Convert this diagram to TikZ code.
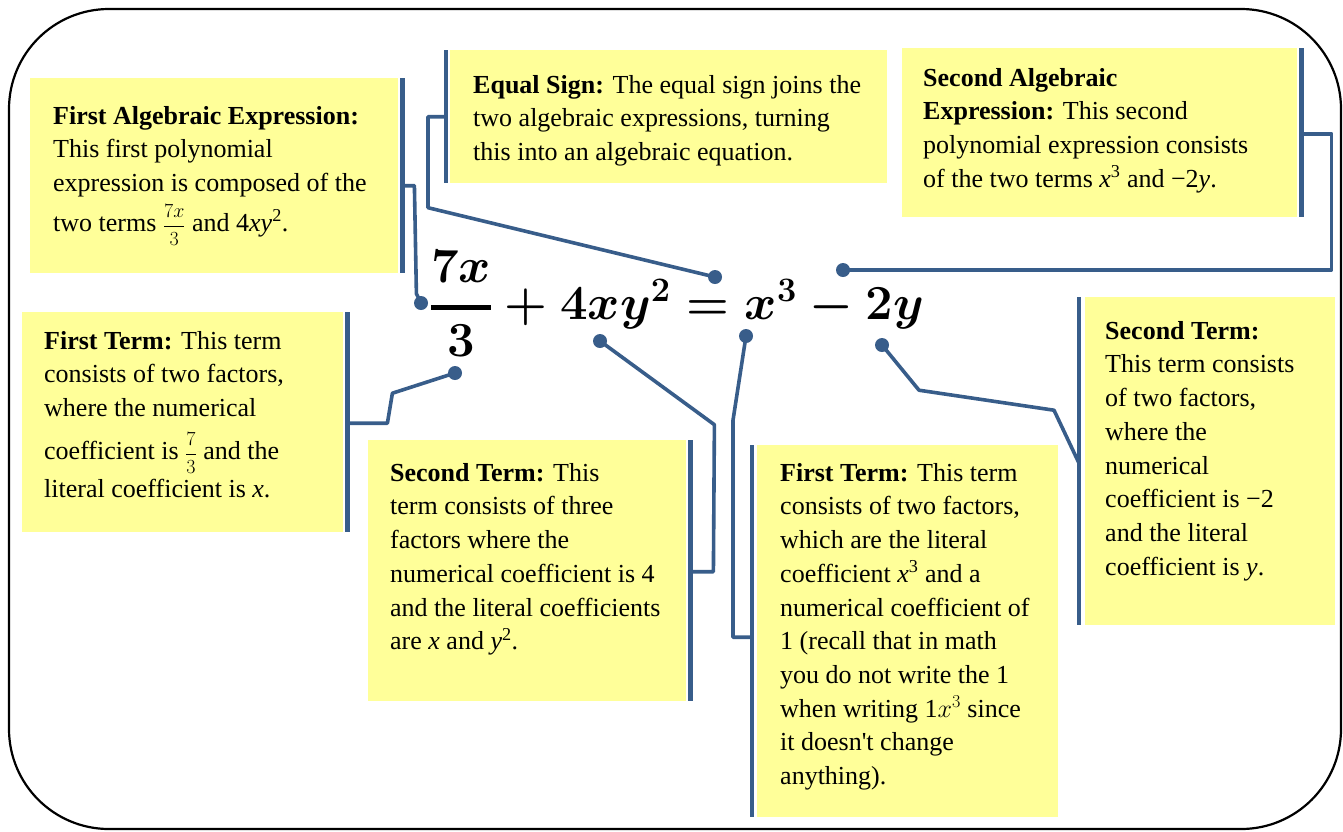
\RequirePackage{fix-cm}
\documentclass[tikz,border=0pt]{standalone}
\usepackage{amsmath}
\usepackage{fontspec}
\setmainfont{Liberation Serif}
\usetikzlibrary{calc}
\definecolor{noteyellow}{RGB}{255,255,153}
\definecolor{leadblue}{RGB}{56,93,138}
\newcommand{\eqnfont}{\fontsize{49}{60}\selectfont\boldmath}
\newcommand{\notefrac}[2]{{\fontsize{20}{26}\selectfont$\dfrac{#1}{#2}$}}
\tikzset{
  notebox/.style={anchor=north west, fill=noteyellow, inner sep=0pt},
  notetext/.style={anchor=north west, inner sep=0pt, align=left,
                   font=\fontsize{26}{33.7}\selectfont},
  notebar/.style={draw=leadblue, line width=4.5pt},
  leadline/.style={draw=leadblue, line width=3.6pt, line join=round},
  leaddot/.style={circle, fill=leadblue, inner sep=0pt, minimum size=14pt},
  eqnbox/.style={inner sep=0pt, font=\eqnfont},
}

\begin{document}
\begin{tikzpicture}[x=1pt,y=-1pt]
\useasboundingbox (0,0) rectangle (1343,831);
\draw[line width=2.2pt, rounded corners=100pt] (9,9) rectangle (1341,829);

% yellow notes
\node[notebox, minimum width=368pt, minimum height=195pt] (fae) at (30,78) {};
\node[notebox, minimum width=437pt, minimum height=133pt] (eqs) at (450,50) {};
\node[notebox, minimum width=395pt, minimum height=169pt] (sae) at (902,48) {};
\node[notebox, minimum width=321pt, minimum height=220pt] (ftl) at (22,312) {};
\node[notebox, minimum width=318pt, minimum height=261pt] (stl) at (368,440) {};
\node[notebox, minimum width=301pt, minimum height=372pt] (ftr) at (757,445) {};
\node[notebox, minimum width=250pt, minimum height=328pt] (str) at (1085,297) {};

\draw[notebar] ($(fae.north east)+(4,0)$) -- ($(fae.south east)+(4,0)$);
\draw[notebar] ($(eqs.north west)+(-4,0)$) -- ($(eqs.south west)+(-4,0)$);
\draw[notebar] ($(sae.north east)+(4,0)$) -- ($(sae.south east)+(4,0)$);
\draw[notebar] ($(ftl.north east)+(4,0)$) -- ($(ftl.south east)+(4,0)$);
\draw[notebar] ($(stl.north east)+(4,0)$) -- ($(stl.south east)+(4,0)$);
\draw[notebar] ($(ftr.north west)+(-5,0)$) -- ($(ftr.south west)+(-5,0)$);
\draw[notebar] ($(str.north west)+(-6,0)$) -- ($(str.south west)+(-6,0)$);

\node[notetext] (fae text) at (53,106)
  {\textbf{First Algebraic Expression:}\\ This first polynomial\\
   expression is composed of the\\[6pt] two terms \notefrac{7x}{3} and 4\textit{xy}\textsuperscript{2}.};
\node[notetext] (eqs text) at (473,75)
  {\textbf{Equal Sign:} The equal sign joins the\\ two algebraic expressions, turning\\
   this into an algebraic equation.};
\node[notetext] (sae text) at (923,68)
  {\textbf{Second Algebraic}\\ \textbf{Expression:} This second\\
   polynomial expression consists\\ of the two terms \textit{x}\textsuperscript{3} and −2\textit{y}.};
\node[notetext] (ftl text) at (44,331)
  {\textbf{First Term:} This term\\ consists of two factors,\\ where the numerical\\[9pt]
   coefficient is \notefrac{7}{3} and the\\[4pt] literal coefficient is \textit{x}.};
\node[notetext] (stl text) at (390,463)
  {\textbf{Second Term:} This\\ term consists of three\\ factors where the\\
   numerical coefficient is 4\\ and the literal coefficients\\ are \textit{x} and \textit{y}\textsuperscript{2}.};
\node[notetext] (ftr text) at (780,463)
  {\textbf{First Term:} This term\\ consists of two factors,\\ which are the literal\\
   coefficient \textit{x}\textsuperscript{3} and a\\ numerical coefficient of\\ 1 (recall that in math\\
   you do not write the 1\\ when writing 1$x^{3}$ since\\ it doesn\textquotesingle t change\\ anything).};
\node[notetext] (str text) at (1105,321)
  {\textbf{Second Term:}\\ This term consists\\ of two factors,\\ where the\\ numerical\\
   coefficient is −2\\ and the literal\\ coefficient is \textit{y}.};

% the equation and its pins
\node[eqnbox] (eqn) at (677,304)
  {$\genfrac{}{}{4.5pt}{0}{7x}{3}+4xy^{2}=x^{3}-2y$};
\node[leaddot] (p1) at (421,303) {};
\node[leaddot] (p2) at (715,277) {};
\node[leaddot] (p3) at (843,270) {};
\node[leaddot] (p4) at (455,373) {};
\node[leaddot] (p5) at (600,341) {};
\node[leaddot] (p6) at (746,336) {};
\node[leaddot] (p7) at (882,345) {};

\draw[leadline] ($(fae.east)+(4,10)$) -- ++(12,0) -- ++(2,108) -- (p1.center);
\draw[leadline] ($(eqs.west)+(-4,0)$) -- ++(-18,0) -- ++(0,91) -- (p2.center);
\draw[leadline] ($(sae.east)+(4,1)$) -- ++(30,0) |- (p3.center);
\draw[leadline] ($(ftl.east)+(4,1)$) -- ++(40,0) -- ++(5,-30) -- (p4.center);
\draw[leadline] ($(stl.east)+(4,1)$) -- ++(23,0) -- ++(1,-147) -- (p5.center);
\draw[leadline] ($(ftr.west)+(-5,6)$) -- ++(-19,0) -- ++(0,-217) -- (p6.center);
\draw[leadline] ($(str.west)+(-6,2)$) -- ++(-25,-53) -- ++(-135,-20) -- (p7.center);
\end{tikzpicture}
\end{document}
